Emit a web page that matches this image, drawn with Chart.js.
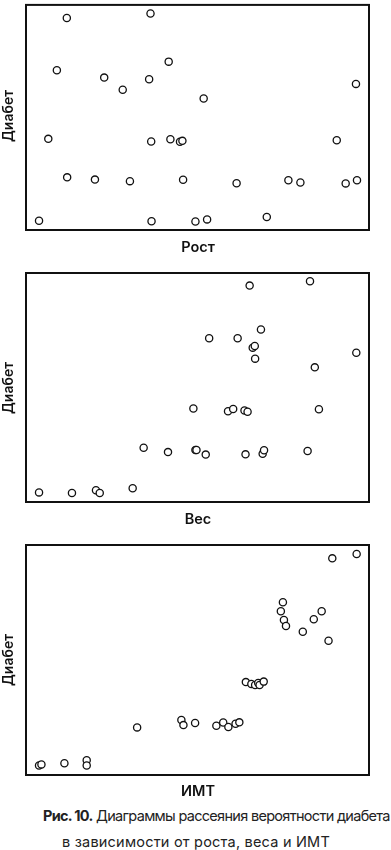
<!DOCTYPE html>
<html lang="ru">
<head>
  <meta charset="UTF-8">
  <title>Диаграммы рассеяния</title>
  <script src="https://cdn.jsdelivr.net/npm/chart.js"></script>
  <style>
    body { margin: 0; background: #fff; font-family: Inter, Roboto, sans-serif; }
    #page { position: relative; width: 391px; height: 850px; overflow: hidden; }
    .box { position: absolute; left: 0; width: 391px; }
    .ylab {
      position: absolute; left: 7px; font-size: 14px; font-weight: 600; color: #111;
      transform: translate(-50%, -50%) rotate(-90deg); white-space: nowrap;
    }
    .xlab {
      position: absolute; left: 198px; font-size: 14.5px; font-weight: 600; color: #111;
      transform: translate(-50%, -50%); white-space: nowrap;
    }
    .cap {
      position: absolute; font-size: 14.5px; color: #222; white-space: nowrap;
      transform: translateY(-50%);
    }
  </style>
</head>
<body>
<div id="page">
  <div class="box" style="top:0;height:240px"><canvas id="c1"></canvas></div>
  <div class="box" style="top:262px;height:250px"><canvas id="c2"></canvas></div>
  <div class="box" style="top:535px;height:250px"><canvas id="c3"></canvas></div>

  <div class="ylab" style="top:116px">Диабет</div>
  <div class="ylab" style="top:388px">Диабет</div>
  <div class="ylab" style="top:660px">Диабет</div>

  <div class="xlab" style="top:246px">Рост</div>
  <div class="xlab" style="top:518px">Вес</div>
  <div class="xlab" style="top:790px">ИМТ</div>

  <div class="cap" id="cap1" data-w="347" style="top:815px;left:43px"><b>Рис. 10.</b> Диаграммы рассеяния вероятности диабета</div>
  <div class="cap" id="cap2" data-w="268" style="top:841px;left:62px">в зависимости от роста, веса и ИМТ</div>
</div>

<script>
  // Рост
  const rostX = [11.9, 36.3, 9.0, 22.8, 28.2, 35.9, 41.6, 51.8, 96.2, 6.5, 36.5, 42.1, 44.9, 45.6, 90.6,
                 12.0, 20.1, 30.3, 45.8, 61.4, 76.5, 80.0, 93.2, 96.5, 3.8, 36.6, 49.4, 52.8, 70.2];
  const rostY = [94.2, 96.2, 71.0, 67.7, 62.3, 67.0, 74.8, 58.4, 64.9, 40.5, 39.3, 40.3, 39.2, 39.6, 39.9,
                 23.4, 22.4, 21.7, 22.3, 20.8, 22.1, 21.1, 20.7, 22.1, 4.1, 3.9, 3.8, 4.7, 5.8];

  // Вес
  const vesX = [3.8, 13.4, 20.4, 21.5, 31.1, 34.3, 41.4, 49.4, 49.7, 52.4, 64.0, 69.0, 69.4, 82.1,
                48.8, 58.9, 60.4, 63.7, 64.6, 85.4, 53.4, 61.7, 68.5, 66.1, 66.7, 66.8, 96.3, 84.2, 65.2, 82.8];
  const vesY = [4.2, 3.9, 5.1, 3.9, 6.0, 23.7, 21.8, 22.7, 22.7, 20.7, 20.8, 21.1, 22.6, 22.3,
                40.8, 39.6, 40.6, 40.0, 39.4, 40.5, 71.5, 71.5, 75.3, 67.4, 68.1, 62.6, 65.2, 58.8, 94.5, 96.4];

  // ИМТ
  const imtX = [3.8, 4.5, 11.2, 17.7, 17.7, 32.4, 45.3, 45.9, 49.3, 55.5, 57.5, 59.0, 61.1, 62.2,
                64.1, 65.7, 66.8, 67.7, 68.1, 69.3, 74.9, 74.3, 75.2, 75.8, 80.7, 83.9, 86.2, 88.2, 89.3, 96.4];
  const imtY = [4.1, 4.6, 5.1, 6.4, 4.1, 20.7, 23.9, 21.7, 22.6, 21.4, 22.8, 20.9, 22.3, 22.9,
                40.4, 39.6, 39.1, 40.0, 39.1, 40.6, 75.1, 71.2, 67.4, 64.8, 62.3, 67.7, 71.2, 58.4, 94.2, 96.1];

  // подгоняем ширину подписи под оригинал через межбуквенный интервал
  ['cap1', 'cap2'].forEach(id => {
    const el = document.getElementById(id);
    const target = +el.dataset.w;
    const n = el.textContent.length;
    const w = el.getBoundingClientRect().width;
    el.style.letterSpacing = ((target - w) / n).toFixed(2) + 'px';
  });

  const frame = {
    id: 'frame',
    afterDatasetsDraw(chart) {
      const a = chart.chartArea, ctx = chart.ctx;
      ctx.save();
      ctx.strokeStyle = '#111';
      ctx.lineWidth = 2;
      ctx.strokeRect(a.left, a.top, a.right - a.left, a.bottom - a.top);
      ctx.restore();
    }
  };

  function makeChart(id, xs, ys, padTop, padBottom) {
    const points = xs.map((x, i) => ({ x: x, y: ys[i] }));
    new Chart(document.getElementById(id), {
      type: 'scatter',
      data: {
        datasets: [{
          data: points,
          pointStyle: 'circle',
          pointRadius: 3.6,
          pointBorderWidth: 1.3,
          borderColor: '#111',
          backgroundColor: '#fff',
          pointHoverRadius: 3.6
        }]
      },
      options: {
        responsive: true,
        maintainAspectRatio: false,
        animation: false,
        layout: { padding: { left: 26, right: 22, top: padTop, bottom: padBottom } },
        plugins: { legend: { display: false }, tooltip: { enabled: false } },
        scales: {
          x: { type: 'linear', min: 0, max: 100, display: false },
          y: { type: 'linear', min: 0, max: 100, display: false }
        }
      },
      plugins: [frame]
    });
  }

  makeChart('c1', rostX, rostY, 1, 10);
  makeChart('c2', vesX, vesY, 11, 10);
  makeChart('c3', imtX, imtY, 10, 10);
</script>
</body>
</html>
